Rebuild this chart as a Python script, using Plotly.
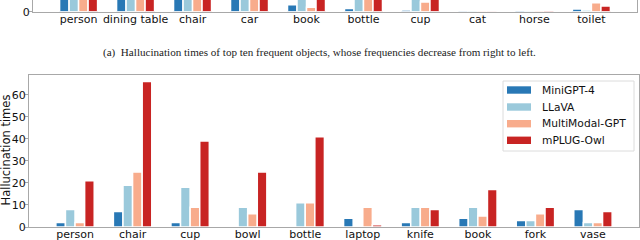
import plotly.graph_objects as go

W, H = 640, 240

models = ["MiniGPT-4", "LLaVA", "MultiModal-GPT", "mPLUG-Owl"]
colors = ["#2878b5", "#9ac9db", "#f8ac8c", "#c82423"]

# bottom chart (b)
cats_b = ["person", "chair", "cup", "bowl", "bottle", "laptop", "knife", "book", "fork", "vase"]
minigpt_b = [2, 7, 2, 0, 0, 4, 2, 4, 3, 8]
llava_b = [8, 19, 18, 9, 11, 0, 9, 9, 3, 2]
mmgpt_b = [2, 25, 9, 6, 11, 9, 9, 5, 6, 2]
mplug_b = [21, 66, 39, 25, 41, 1, 8, 17, 9, 7]

# top chart (a), only its lowest part is visible (values estimated)
cats_a = ["person", "dining table", "chair", "car", "book", "bottle", "cup", "cat", "horse", "toilet"]
minigpt_a = [12, 12, 12, 12, 3.2, 1.4, 0.8, 0.2, 0.6, 1.2]
llava_a = [20, 20, 20, 20, 20, 20, 20, 0.3, 0.2, 0.8]
mmgpt_a = [15, 15, 15, 15, 2.0, 20, 4.4, 0.2, 0.45, 4.1]
mplug_a = [30, 30, 30, 30, 25, 25, 25, 0.1, 0.3, 2.6]

yticks_b = [0, 10, 20, 30, 40, 50, 60]

caption = "(a)  Hallucination times of top ten frequent objects, whose frequencies decrease from right to left."


def px(x):
    return x / W


def py(y):
    return 1 - y / H


fig = go.Figure()
series_b = [minigpt_b, llava_b, mmgpt_b, mplug_b]
series_a = [minigpt_a, llava_a, mmgpt_a, mplug_a]
for name, col, vb, va in zip(models, colors, series_b, series_a):
    fig.add_trace(go.Bar(x=cats_b, y=vb, name=name, marker=dict(color=col, line=dict(color="white", width=1.5)),
                         xaxis="x", yaxis="y", showlegend=False))
    fig.add_trace(go.Bar(x=cats_a, y=va, name=name, marker=dict(color=col, line=dict(color="white", width=1.5)),
                         xaxis="x2", yaxis="y2", showlegend=False))

font = dict(family="DejaVu Sans", size=11, color="#111")
axcol = "#a8a8a8"

fig.update_layout(
    template="none",
    width=W, height=H, margin=dict(l=0, r=0, t=0, b=0, pad=0),
    paper_bgcolor="white", plot_bgcolor="white",
    barmode="group", bargap=0.333, bargroupgap=0,
    font=font,
    xaxis=dict(domain=[px(29), px(639)], range=[-0.8, 9.8], showline=True, mirror=True, linecolor=axcol,
               linewidth=1, ticks="", showgrid=False, zeroline=False, tickfont=font, anchor="y", automargin=False,
               ticklabelstandoff=-3),
    yaxis=dict(domain=[py(227), py(75)], range=[0, 69], showline=True, mirror=True, linecolor=axcol,
               linewidth=1, ticks="outside", ticklen=3, tickcolor=axcol, tickvals=yticks_b,
               showgrid=False, zeroline=False, tickfont=font, anchor="x", automargin=False,
               ticklabelstandoff=-3),
    xaxis2=dict(domain=[px(33), px(637)], range=[-0.8, 9.8], showline=True, mirror=False, linecolor=axcol,
                linewidth=1, ticks="", showgrid=False, zeroline=False, tickfont=font, anchor="y2", automargin=False,
                ticklabelstandoff=-3),
    yaxis2=dict(domain=[py(11.7), 1], range=[0, 5.3], showline=True, mirror=True, linecolor=axcol,
                linewidth=1, ticks="outside", ticklen=3, tickcolor=axcol, tickvals=[0],
                showgrid=False, zeroline=False, tickfont=font, anchor="x2", automargin=False,
                ticklabelstandoff=-3),
)

# y-axis title of the lower chart
fig.add_annotation(text="Hallucination times", x=px(5.5), y=py(150), xref="paper", yref="paper", showarrow=False,
                   textangle=-90, xanchor="center", yanchor="middle", font=dict(family="DejaVu Sans", size=11.5, color="#111"))

# caption
fig.add_annotation(text=caption, x=px(319), y=py(52), xref="paper", yref="paper", showarrow=False,
                   font=dict(family="Liberation Serif", size=11.1, color="#222"), xanchor="center", yanchor="middle")

# legend box
fig.add_shape(type="rect", xref="paper", yref="paper", x0=px(503), x1=px(634), y0=py(151), y1=py(81),
              line=dict(color="#dcdcdc", width=1), fillcolor="rgba(255,255,255,0.85)", layer="above")
rows = [90, 107, 123.7, 140.3]
for name, col, ry in zip(models, colors, rows):
    fig.add_shape(type="rect", xref="paper", yref="paper", x0=px(507), x1=px(531), y0=py(ry + 3.7), y1=py(ry - 3.7),
                  line=dict(width=0), fillcolor=col, layer="above")
    fig.add_annotation(text=name, x=px(540), y=py(ry), xref="paper", yref="paper", showarrow=False,
                       xanchor="left", yanchor="middle", font=dict(family="DejaVu Sans", size=10.7, color="#111"))

fig.write_html("out.html", config={"displayModeBar": False},
               post_script="document.body.style.margin='0';document.body.style.overflow='hidden';")
